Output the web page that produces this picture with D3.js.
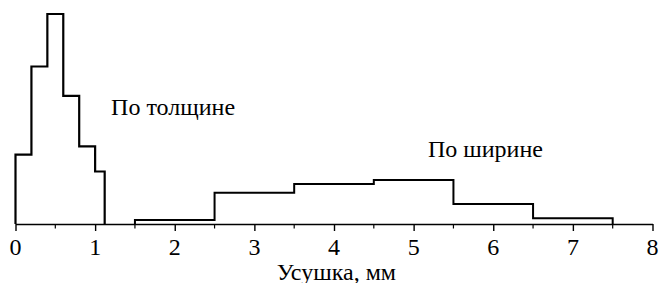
<!DOCTYPE html>
<html>
<head>
<meta charset="utf-8">
<script src="https://cdn.jsdelivr.net/npm/d3@7"></script>
</head>
<body style="margin:0">
<svg id="chart" width="660" height="283"></svg>
<script>
// Data
const thicknessEdges = [0, 0.2, 0.4, 0.6, 0.8, 1.0, 1.12];
const thicknessValues = [33, 75, 100, 61, 37, 25];
const widthEdges = [1.5, 2.5, 3.5, 4.5, 5.5, 6.5, 7.5];
const widthValues = [1.9, 14.9, 19, 21, 9.5, 2.7];
const majorTicks = [0, 1, 2, 3, 4, 5, 6, 7, 8];
const tickLabels = ["0", "1", "2", "3", "4", "5", "6", "7", "8"];
const minorTicks = [0.5, 1.5, 2.5, 3.5, 4.5, 5.5, 6.5, 7.5];
const xTitle = "Усушка, мм";
const labelThickness = "По толщине";
const labelWidth = "По ширине";

const svg = d3.select("#chart");
const x = d3.scaleLinear().domain([0, 8]).range([15.5, 652.5]);
const y = d3.scaleLinear().domain([0, 100]).range([224, 14]);

function stepPoints(edges, values) {
  const pts = [[edges[0], 0]];
  values.forEach((v, i) => {
    pts.push([edges[i], v]);
    pts.push([edges[i + 1], v]);
  });
  pts.push([edges[edges.length - 1], 0]);
  return pts;
}
const line = d3.line().x(d => x(d[0])).y(d => y(d[1]));

// Axis (lines only from d3 axis; labels drawn with the same scale)
const axis = d3.axisBottom(x)
  .tickValues(majorTicks)
  .tickFormat(() => "")
  .tickSize(7)
  .tickSizeOuter(0);
const gAxis = svg.append("g").attr("transform", `translate(0,${y(0)})`).call(axis);
gAxis.select(".domain").attr("stroke", "#000").attr("stroke-width", 1.6);
gAxis.selectAll(".tick line").attr("stroke", "#000").attr("stroke-width", 1.4);
gAxis.selectAll(".tick text").remove();

svg.append("g").selectAll("line").data(minorTicks).join("line")
  .attr("x1", d => x(d)).attr("x2", d => x(d))
  .attr("y1", y(0)).attr("y2", y(0) + 4.5)
  .attr("stroke", "#000").attr("stroke-width", 1.2);

// Histograms
svg.append("path").datum(stepPoints(thicknessEdges, thicknessValues))
  .attr("d", line).attr("fill", "none").attr("stroke", "#000")
  .attr("stroke-width", 2.2).attr("stroke-linejoin", "miter");
svg.append("path").datum(stepPoints(widthEdges, widthValues))
  .attr("d", line).attr("fill", "none").attr("stroke", "#000")
  .attr("stroke-width", 2.0).attr("stroke-linejoin", "miter");

// All texts
const texts = majorTicks.map((v, i) => ({ t: tickLabels[i], xv: v, yp: 254.5, a: "middle" }))
  .concat([
    { t: labelThickness, xv: 1.2, yp: 115, a: "start" },
    { t: labelWidth, xv: 5.18, yp: 156.5, a: "start" },
    { t: xTitle, xv: 4.03, yp: 279.5, a: "middle" }
  ]);
svg.selectAll("text.c").data(texts).join("text").attr("class", "c")
  .attr("x", d => x(d.xv)).attr("y", d => d.yp)
  .attr("text-anchor", d => d.a)
  .style("font-family", d => `"Liberation Serif"`).style("font-size", "24px")
  .text(d => d.t);
</script>
</body>
</html>
